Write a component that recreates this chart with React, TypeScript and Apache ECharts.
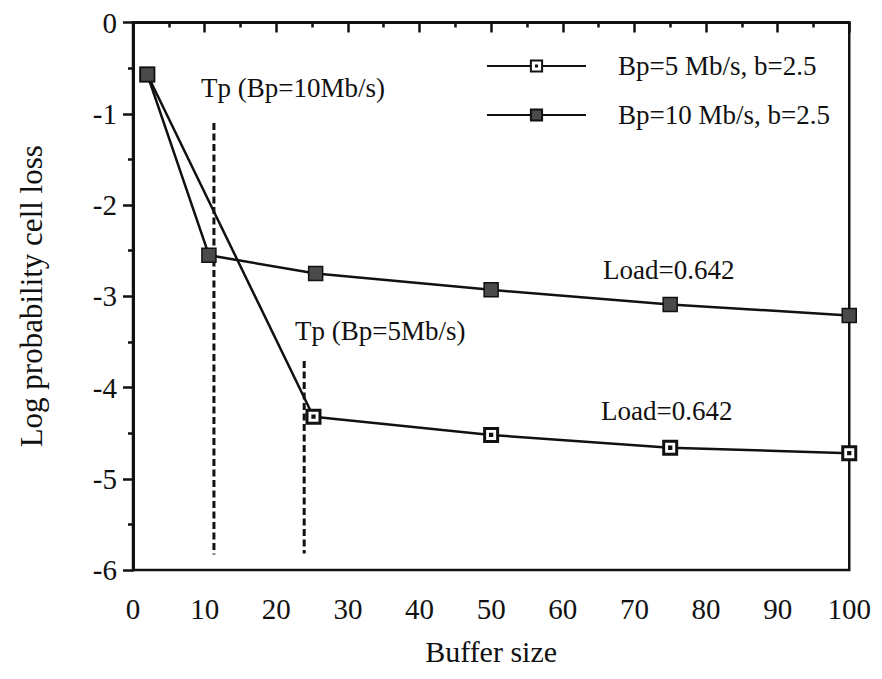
import React, { useEffect, useRef } from "react";
import * as echarts from "echarts";

const seriesNames = ["Bp=5 Mb/s, b=2.5", "Bp=10 Mb/s, b=2.5"];
const bufferSizes5 = [2, 25.2, 50, 75, 100];
const logLoss5 = [-0.57, -4.32, -4.52, -4.66, -4.72];
const bufferSizes10 = [2, 10.6, 25.5, 50, 75, 100];
const logLoss10 = [-0.57, -2.55, -2.75, -2.93, -3.09, -3.21];
const tp10X = [11.3, 11.3];
const tp10Y = [-1.1, -5.83];
const tp5X = [23.9, 23.9];
const tp5Y = [-3.71, -5.82];
const annotations = ["Tp (Bp=10Mb/s)", "Tp (Bp=5Mb/s)", "Load=0.642", "Load=0.642"];

const FONT = "'Liberation Serif', 'DejaVu Serif', serif";
const INK = "#111";

const zip = (xs: number[], ys: number[]) => xs.map((x, i) => [x, ys[i]]);

const openSquare = "path://M0,0H12V12H0Z M5.4,5.4H6.6V6.6H5.4Z";

export default function App() {
  const ref = useRef<HTMLDivElement>(null);
  useEffect(() => {
    if (!ref.current) return;
    const chart = echarts.init(ref.current, null, { renderer: "svg" });
    const textBase = { fontFamily: FONT, fontSize: 27, fill: INK };
    chart.setOption({
      animation: false,
      backgroundColor: "#fff",
      grid: {
        left: 122,
        top: 11,
        right: 14,
        bottom: 92,
        show: true,
        borderColor: INK,
        borderWidth: 2.5,
      },
      legend: {
        data: seriesNames,
        orient: "vertical",
        left: 473,
        top: 37,
        itemWidth: 99,
        itemHeight: 14,
        itemGap: 17,
        textStyle: {
          fontFamily: FONT,
          fontSize: 27,
          color: INK,
          lineHeight: 32,
          padding: [0, 0, 0, 27],
        },
      },
      xAxis: {
        type: "value",
        min: 0,
        max: 100,
        interval: 10,
        name: "Buffer size",
        nameLocation: "middle",
        nameGap: 66,
        nameTextStyle: { fontFamily: FONT, fontSize: 30, color: INK },
        axisLine: { show: true, lineStyle: { color: INK, width: 3 } },
        axisTick: { show: true, inside: false, length: 10, lineStyle: { color: INK, width: 2.5 } },
        minorTick: { show: true, splitNumber: 2, length: 5, lineStyle: { color: INK, width: 2.5 } },
        axisLabel: { fontFamily: FONT, fontSize: 29, color: INK, margin: 24 },
        splitLine: { show: false },
      },
      yAxis: {
        type: "value",
        min: -6,
        max: 0,
        interval: 1,
        name: "Log probability cell loss",
        nameLocation: "middle",
        nameGap: 86,
        nameRotate: 90,
        nameTextStyle: { fontFamily: FONT, fontSize: 31, color: INK },
        axisLine: { show: true, lineStyle: { color: INK, width: 3 } },
        axisTick: { show: true, inside: false, length: 10, lineStyle: { color: INK, width: 2.5 } },
        minorTick: { show: true, splitNumber: 2, length: 5, lineStyle: { color: INK, width: 2.5 } },
        axisLabel: { fontFamily: FONT, fontSize: 29, color: INK, margin: 16 },
        splitLine: { show: false },
      },
      series: [
        {
          name: seriesNames[0],
          type: "line",
          data: zip(bufferSizes5, logLoss5),
          symbol: openSquare,
          symbolSize: 13,
          z: 4,
          lineStyle: { color: INK, width: 2.5 },
          itemStyle: { color: "#fff", borderColor: INK, borderWidth: 3 },
        },
        {
          name: seriesNames[1],
          type: "line",
          data: zip(bufferSizes10, logLoss10),
          symbol: "rect",
          symbolSize: 14,
          z: 4,
          lineStyle: { color: INK, width: 2.5 },
          itemStyle: { color: "#4a4a4a", borderColor: INK, borderWidth: 1.5 },
        },
        {
          name: "tp10",
          type: "line",
          data: zip(tp10X, tp10Y),
          symbol: "none",
          silent: true,
          lineStyle: { color: INK, width: 3, type: [7, 3.5] },
        },
        {
          name: "tp5",
          type: "line",
          data: zip(tp5X, tp5Y),
          symbol: "none",
          silent: true,
          lineStyle: { color: INK, width: 3, type: [7, 3.5] },
        },
      ],
      graphic: [
        { type: "text", x: 193, y: 80, style: { ...textBase, text: annotations[0], verticalAlign: "middle" } },
        { type: "text", x: 287, y: 323, style: { ...textBase, text: annotations[1], verticalAlign: "middle" } },
        { type: "text", x: 595, y: 262, style: { ...textBase, text: annotations[2], verticalAlign: "middle" } },
        { type: "text", x: 593, y: 403, style: { ...textBase, text: annotations[3], verticalAlign: "middle" } },
      ],
    });
    return () => chart.dispose();
  }, []);
  return <div ref={ref} style={{ width: 866, height: 663 }} />;
}
